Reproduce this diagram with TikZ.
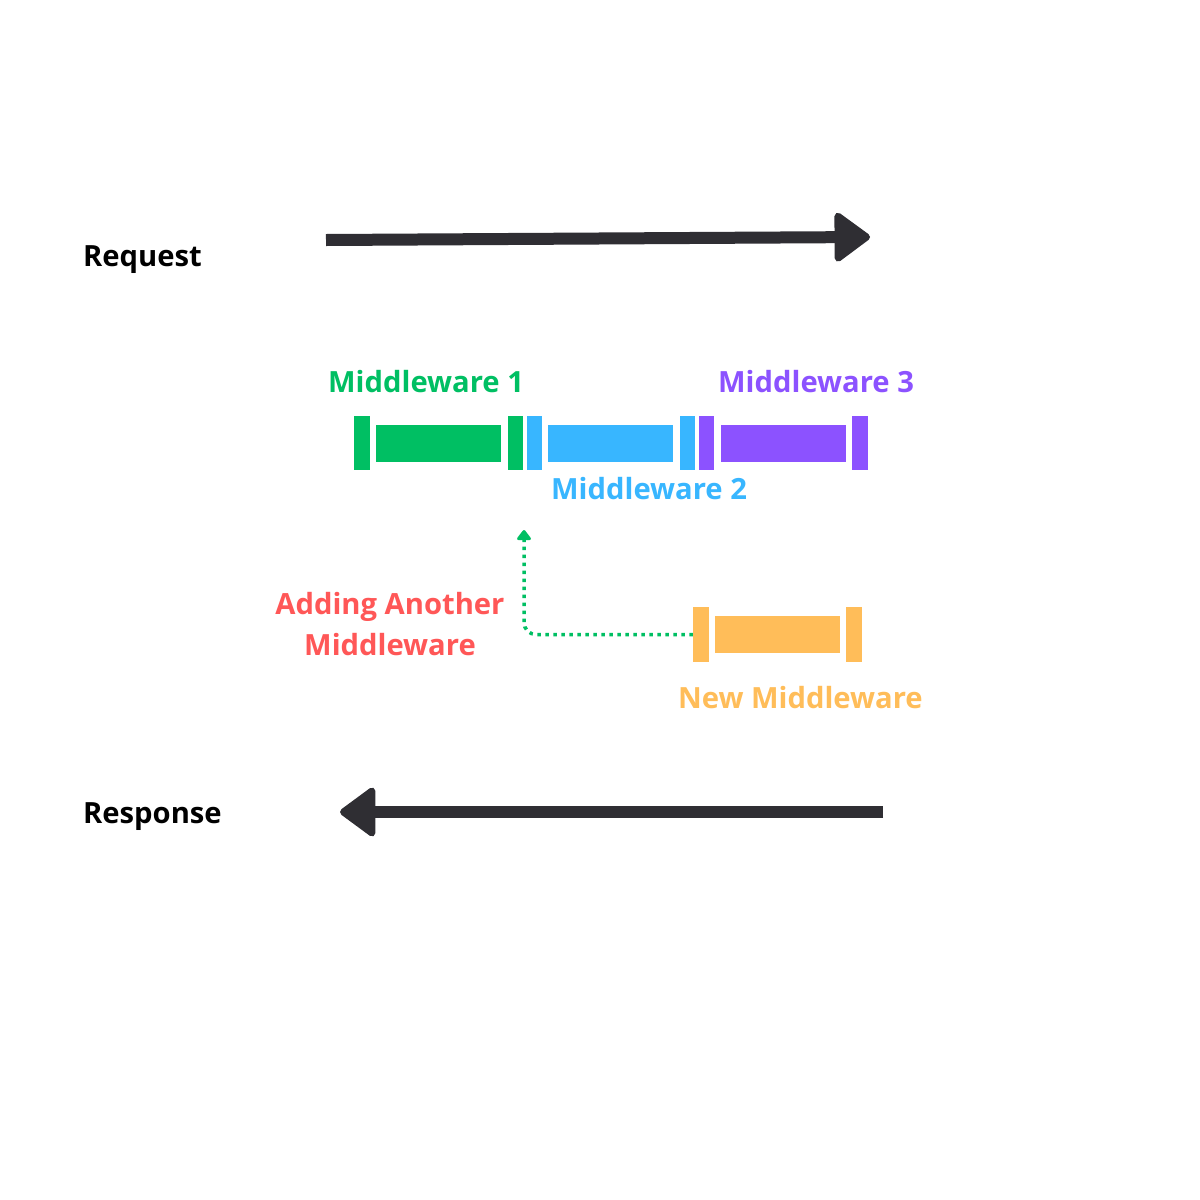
\documentclass[tikz,border=0pt]{standalone}
\usepackage{fontspec}
\setmainfont{Open Sans}
\usetikzlibrary{arrows.meta}
\definecolor{cgreen}{HTML}{00BF63}
\definecolor{cblue}{HTML}{38B6FF}
\definecolor{cpurple}{HTML}{8C52FF}
\definecolor{corange}{HTML}{FFBD59}
\definecolor{cred}{HTML}{FF5757}
\definecolor{cdark}{HTML}{2F2E33}
\tikzset{
  lbl/.style={font=\fontsize{29.2}{41}\selectfont\bfseries, inner sep=0pt, anchor=base west},
  capbar/.style={inner sep=0pt, minimum width=16pt, minimum height=54pt, draw=none},
  bodybar/.style={inner sep=0pt, minimum width=125pt, minimum height=37pt, draw=none},
  bigarrow/.style={line width=12pt, draw=cdark, -{Triangle[length=38pt,width=54pt,round,line width=7pt]}},
  dotline/.style={draw=cgreen, line width=3.5pt, dash pattern=on 3.5pt off 4.5pt, rounded corners=12pt, -{Triangle[length=11pt,width=16pt,round]}}
}
\begin{document}
\begin{tikzpicture}[x=1pt,y=-1pt]
\useasboundingbox[fill=white] (0,0) rectangle (1200,1200);
% labels
\node[lbl] (req) at (83,266) {Request};
\node[lbl] (resp) at (83,823) {Response};
\node[lbl, text=cgreen] (l1) at (328,392) {Middleware 1};
\node[lbl, text=cpurple] (l3) at (718,392) {Middleware 3};
\node[lbl, text=cblue] (l2) at (551,499) {Middleware 2};
\node[lbl, text=corange] (ln) at (678,708) {New Middleware};
\node[font=\fontsize{29.2}{41}\selectfont\bfseries, text=cred, align=center, inner sep=0pt, anchor=base] (add) at (390,655) {Adding Another\\Middleware};
% request / response arrows
\coordinate (reqs) at (326,240);
\coordinate (reqe) at (870,237);
\coordinate (resps) at (883,812);
\coordinate (respe) at (340,812);
\draw[bigarrow] (reqs) -- (reqe);
\draw[bigarrow] (resps) -- (respe);
% middleware 1
\node[capbar, fill=cgreen] (m1a) at (362,443) {};
\node[bodybar, fill=cgreen] (m1b) at (438.5,443.5) {};
\node[capbar, fill=cgreen, minimum width=15pt] (m1c) at (515.5,443) {};
% middleware 2
\node[capbar, fill=cblue, minimum width=15pt] (m2a) at (534.5,443) {};
\node[bodybar, fill=cblue] (m2b) at (610.5,443.5) {};
\node[capbar, fill=cblue, minimum width=15pt] (m2c) at (687.5,443) {};
% middleware 3
\node[capbar, fill=cpurple, minimum width=15pt] (m3a) at (706.5,443) {};
\node[bodybar, fill=cpurple] (m3b) at (783.5,443.5) {};
\node[capbar, fill=cpurple] (m3c) at (860,443) {};
% new middleware
\node[capbar, fill=corange, minimum height=55pt] (na) at (701,634.5) {};
\node[bodybar, fill=corange] (nb) at (777.5,634.5) {};
\node[capbar, fill=corange, minimum height=55pt] (nc) at (854,634.5) {};
% dotted connector
\coordinate (ins) at (524,530);
\draw[dotline] (na.west) -| (ins);
\end{tikzpicture}
\end{document}
